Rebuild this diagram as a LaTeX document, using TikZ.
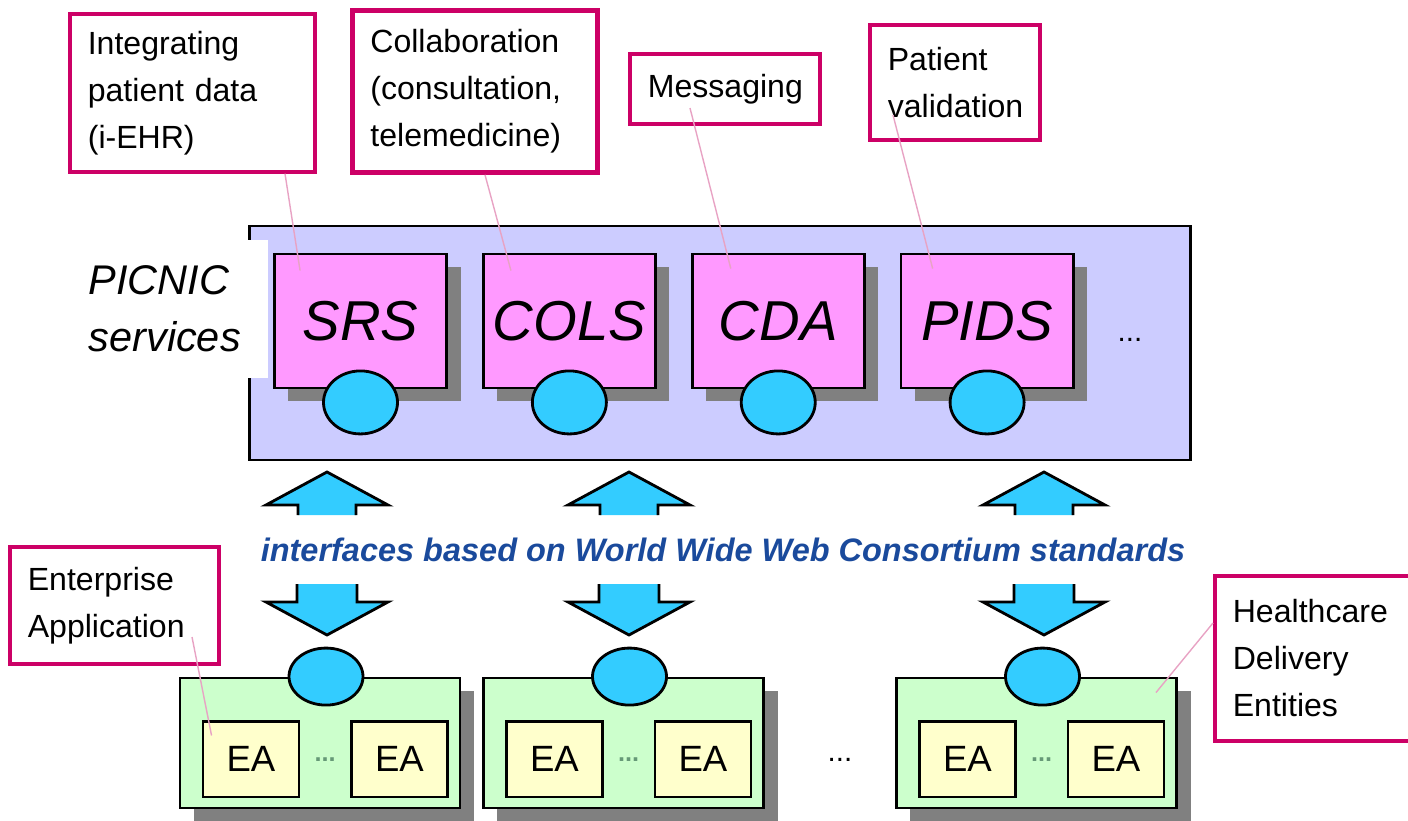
\documentclass[tikz,border=0pt]{standalone}
\usepackage{fontspec}
\setmainfont{Liberation Sans}
\usetikzlibrary{positioning,shapes.geometric,shadows,calc}
\definecolor{svcback}{HTML}{CCCCFF}
\definecolor{svcpink}{HTML}{FF99FF}
\definecolor{portcyan}{HTML}{33CCFF}
\definecolor{entgreen}{HTML}{CCFFCC}
\definecolor{eayellow}{HTML}{FFFFCC}
\definecolor{notered}{HTML}{CC0066}
\definecolor{leaderpink}{HTML}{E8A3C4}
\definecolor{shadowgray}{HTML}{808080}
\definecolor{wwwblue}{HTML}{1A4A9C}
\definecolor{dotgreen}{HTML}{669977}
\tikzset{
    %Shadow shared by the boxes
    boxshadow/.style={
      drop shadow={shadow xshift=0.35cm, shadow yshift=-0.33cm,
                   fill=shadowgray, opacity=1}},
    service/.style={
      rectangle,
      draw=black, line width=2pt,
      fill=svcpink, boxshadow,
      minimum width=4.3cm,
      minimum height=3.35cm,
      font=\fontsize{40}{40}\selectfont\itshape},
    port/.style={
      ellipse,
      draw=black, line width=2pt,
      fill=portcyan,
      minimum width=1.85cm,
      inner sep=0pt},
    entity/.style={
      rectangle,
      draw=black, line width=2pt,
      fill=entgreen, boxshadow,
      minimum width=7cm,
      minimum height=3.25cm},
    app/.style={
      rectangle,
      draw=black, line width=2pt,
      fill=eayellow,
      minimum width=2.4cm,
      minimum height=1.875cm,
      font=\fontsize{26}{26}\selectfont},
    note/.style={
      rectangle,
      draw=notered, line width=2.6pt,
      fill=white,
      align=left,
      inner xsep=0.45cm,
      anchor=north west,
      font=\fontsize{22.8}{33.4}\selectfont},
    eadots/.style={
      text=dotgreen,
      font=\fontsize{18}{18}\selectfont\bfseries},
    leader/.style={draw=leaderpink, line width=1pt},
    blockarrow/.style={fill=portcyan, draw=black, line width=2pt, line join=miter},
}
\begin{document}
\begin{tikzpicture}[x=0.025cm, y=-0.025cm]
    \useasboundingbox (0,0) rectangle (1408,821);
    % services layer
    \node (picnic) [draw=black, line width=2pt, fill=svcback,
                    minimum width=23.5cm, minimum height=5.85cm] at (720,343) {};
    \node (picniclabel) [fill=white, anchor=east, align=left,
                         text width=4.375cm, inner xsep=0.1cm, minimum height=3.45cm,
                         font=\fontsize{29.5}{40.5}\selectfont\itshape] at (268,309)
          {PICNIC\\services};
    \node (srs) [service] at (360.5,321) {SRS};
    \node (cols) [service] [right=0.85cm of srs] {COLS};
    \node (cda) [service] [right=0.85cm of cols] {CDA};
    \node (pids) [service] [right=0.85cm of cda] {PIDS};
    \node (moresvc) [font=\fontsize{21}{21}\selectfont] at (1130,340) {...};
    \node (srsport) [port, minimum height=1.575cm] at ([yshift=-0.325cm]srs.south) {};
    \node (colsport) [port, minimum height=1.575cm] at ([yshift=-0.325cm]cols.south) {};
    \node (cdaport) [port, minimum height=1.575cm] at ([yshift=-0.325cm]cda.south) {};
    \node (pidsport) [port, minimum height=1.575cm] at ([yshift=-0.325cm]pids.south) {};
    % interfaces
    \foreach \cx in {327,629,1044} {
      \filldraw[blockarrow] (\cx-29,515) -- (\cx-29,505) -- (\cx-61,505) -- (\cx,472)
            -- (\cx+61,505) -- (\cx+29,505) -- (\cx+29,515);
      \filldraw[blockarrow] (\cx-30,584) -- (\cx-30,602) -- (\cx-61,602) -- (\cx,635)
            -- (\cx+61,602) -- (\cx+30,602) -- (\cx+30,584);
    }
    \node (wwwstd) [text=wwwblue, font=\fontsize{23.1}{23.1}\selectfont\bfseries\itshape]
          at (723,550) {interfaces based on World Wide Web Consortium standards};
    % healthcare delivery entities
    \node (hde1) [entity] at (320,743) {};
    \node (hde2) [entity] at (623.5,743) {};
    \node (hde3) [entity] at (1036.5,743) {};
    \node (ea11) [app] at ([xshift=1.81cm, yshift=-0.41cm]hde1.west) {EA};
    \node (ea12) [app] at ([xshift=-1.55cm, yshift=-0.41cm]hde1.east) {EA};
    \node (ea21) [app] at ([xshift=1.81cm, yshift=-0.41cm]hde2.west) {EA};
    \node (ea22) [app] at ([xshift=-1.55cm, yshift=-0.41cm]hde2.east) {EA};
    \node (ea31) [app] at ([xshift=1.81cm, yshift=-0.41cm]hde3.west) {EA};
    \node (ea32) [app] at ([xshift=-1.55cm, yshift=-0.41cm]hde3.east) {EA};
    \node (dots1) [eadots] at ($(ea11)!0.5!(ea12)$) {...};
    \node (dots2) [eadots] at ($(ea21)!0.5!(ea22)$) {...};
    \node (dots3) [eadots] at ($(ea31)!0.5!(ea32)$) {...};
    \node (moregroups) [font=\fontsize{21}{21}\selectfont] at (840,760) {...};
    \node (hdeport1) [port, minimum height=1.425cm] at ([xshift=0.15cm]hde1.north) {};
    \node (hdeport2) [port, minimum height=1.425cm] at ([xshift=0.15cm]hde2.north) {};
    \node (hdeport3) [port, minimum height=1.425cm] at ([xshift=0.15cm]hde3.north) {};
    % callouts
    \node (integ) [note, text width=5.225cm, minimum height=3.95cm] at (68,12)
          {Integrating\\patient data\\(i-EHR)};
    \node (collab) [note, text width=5.225cm, minimum height=4.05cm,
                    line width=3.4pt] at (350,8)
          {Collaboration\\(consultation,\\telemedicine)};
    \node (msg) [note, text width=3.85cm, minimum height=1.75cm] at (628,52)
          {Messaging};
    \node (patval) [note, text width=3.35cm, minimum height=2.875cm] at (868,23)
          {Patient\\validation};
    \node (entapp) [note, text width=4.325cm, minimum height=2.925cm] at (8,545)
          {Enterprise\\Application};
    \node (hcde) [note, text width=4.3cm, minimum height=4.125cm] at (1213,574)
          {Healthcare\\Delivery\\Entities};
    % leader lines
    \draw[leader] ($(integ.south west)+(217,0)$) -- ($(srs.north west)+(27,18)$);
    \draw[leader] ($(collab.south west)+(135,0)$) -- ($(cols.north west)+(29,18)$);
    \draw[leader] ($(msg.north west)+(62,56)$) -- ($(cda.north west)+(40,16)$);
    \draw[leader] ($(patval.north west)+(25,92)$) -- ($(pids.north west)+(33,16)$);
    \draw[leader] ($(entapp.north west)+(184,92)$) -- ($(ea11.north west)+(10,15)$);
    \draw[leader] ($(hcde.north west)+(0,49)$) -- ($(hde3.north east)+(-22,16)$);
\end{tikzpicture}
\end{document}
